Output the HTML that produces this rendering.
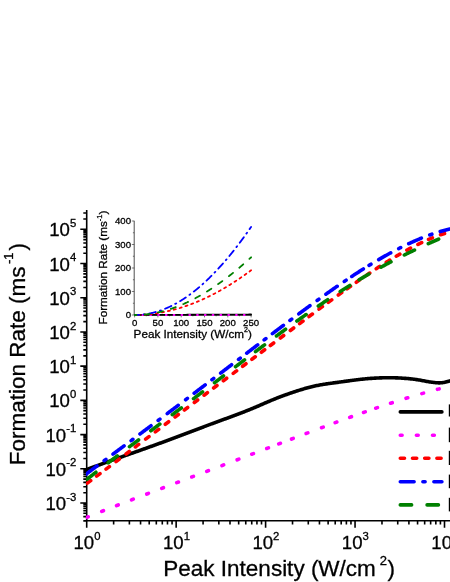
<!DOCTYPE html>
<html><head><meta charset="utf-8"><title>Formation Rate vs Peak Intensity</title>
<style>html,body{margin:0;padding:0;background:#fff}body{width:450px;height:582px;overflow:hidden}svg{display:block;will-change:transform}</style></head>
<body>
<svg width="450" height="582" viewBox="0 0 450 582" font-family="'Liberation Sans', sans-serif" fill="#000">
<style>text{stroke:#000;stroke-width:.3px}</style>
<rect width="450" height="582" fill="#fff"/>
<defs><clipPath id="pc"><rect x="85.9" y="200" width="370" height="321.7"/></clipPath><clipPath id="ic"><rect x="134" y="215" width="125" height="101"/></clipPath></defs>
<g fill="none" stroke="#000" stroke-width="1.6"><path d="M86.7,210.0V520.8H451"/><path d="M83.30,520.89H86.70M83.30,516.61H86.70M83.30,513.30H86.70M83.30,510.59H86.70M83.30,508.30H86.70M83.30,506.32H86.70M83.30,504.57H86.70M80.30,503.00H86.70M83.30,492.70H86.70M83.30,486.68H86.70M83.30,482.40H86.70M83.30,479.09H86.70M83.30,476.38H86.70M83.30,474.09H86.70M83.30,472.11H86.70M83.30,470.36H86.70M80.30,468.79H86.70M83.30,458.49H86.70M83.30,452.47H86.70M83.30,448.19H86.70M83.30,444.88H86.70M83.30,442.17H86.70M83.30,439.88H86.70M83.30,437.90H86.70M83.30,436.15H86.70M80.30,434.58H86.70M83.30,424.28H86.70M83.30,418.26H86.70M83.30,413.98H86.70M83.30,410.67H86.70M83.30,407.96H86.70M83.30,405.67H86.70M83.30,403.69H86.70M83.30,401.94H86.70M80.30,400.37H86.70M83.30,390.07H86.70M83.30,384.05H86.70M83.30,379.77H86.70M83.30,376.46H86.70M83.30,373.75H86.70M83.30,371.46H86.70M83.30,369.48H86.70M83.30,367.73H86.70M80.30,366.16H86.70M83.30,355.86H86.70M83.30,349.84H86.70M83.30,345.56H86.70M83.30,342.25H86.70M83.30,339.54H86.70M83.30,337.25H86.70M83.30,335.27H86.70M83.30,333.52H86.70M80.30,331.95H86.70M83.30,321.65H86.70M83.30,315.63H86.70M83.30,311.35H86.70M83.30,308.04H86.70M83.30,305.33H86.70M83.30,303.04H86.70M83.30,301.06H86.70M83.30,299.31H86.70M80.30,297.74H86.70M83.30,287.44H86.70M83.30,281.42H86.70M83.30,277.14H86.70M83.30,273.83H86.70M83.30,271.12H86.70M83.30,268.83H86.70M83.30,266.85H86.70M83.30,265.10H86.70M80.30,263.53H86.70M83.30,253.23H86.70M83.30,247.21H86.70M83.30,242.93H86.70M83.30,239.62H86.70M83.30,236.91H86.70M83.30,234.62H86.70M83.30,232.64H86.70M83.30,230.89H86.70M80.30,229.32H86.70M83.30,219.02H86.70M83.30,213.00H86.70M86.70,520.80V527.80M113.63,520.80V524.60M129.38,520.80V524.60M140.55,520.80V524.60M149.22,520.80V524.60M156.31,520.80V524.60M162.29,520.80V524.60M167.48,520.80V524.60M172.06,520.80V524.60M176.15,520.80V527.80M203.08,520.80V524.60M218.83,520.80V524.60M230.00,520.80V524.60M238.67,520.80V524.60M245.76,520.80V524.60M251.74,520.80V524.60M256.93,520.80V524.60M261.51,520.80V524.60M265.60,520.80V527.80M292.53,520.80V524.60M308.28,520.80V524.60M319.45,520.80V524.60M328.12,520.80V524.60M335.21,520.80V524.60M341.19,520.80V524.60M346.38,520.80V524.60M350.96,520.80V524.60M355.05,520.80V527.80M381.98,520.80V524.60M397.73,520.80V524.60M408.90,520.80V524.60M417.57,520.80V524.60M424.66,520.80V524.60M430.64,520.80V524.60M435.83,520.80V524.60M440.41,520.80V524.60M444.50,520.80V527.80"/></g>
<g fill="none" stroke="#222"><path d="M134.2,220.8V315.1H251.6" stroke-width="0.8"/><path d="M131.80,315.00H134.2M132.90,303.25H134.2M131.80,291.50H134.2M132.90,279.75H134.2M131.80,268.00H134.2M132.90,256.25H134.2M131.80,244.50H134.2M132.90,232.75H134.2M131.80,221.00H134.2M134.60,315V317.40M146.25,315V316.30M157.90,315V317.40M169.55,315V316.30M181.20,315V317.40M192.85,315V316.30M204.50,315V317.40M216.15,315V316.30M227.80,315V317.40M239.45,315V316.30M251.10,315V317.40" stroke-width="0.6"/></g>
<g fill="none" stroke-linecap="round" stroke-linejoin="round" stroke-width="3.6" clip-path="url(#pc)">
<path d="M86.70,469.51 L87.70,469.14 L88.70,468.77 L89.70,468.39 L90.70,468.02 L91.70,467.65 L92.70,467.28 L93.70,466.92 L94.70,466.55 L95.70,466.18 L96.70,465.82 L97.70,465.45 L98.70,465.09 L99.70,464.72 L100.70,464.36 L101.70,463.99 L102.70,463.63 L103.70,463.27 L104.70,462.91 L105.70,462.55 L106.70,462.19 L107.70,461.83 L108.70,461.47 L109.70,461.11 L110.70,460.75 L111.70,460.40 L112.70,460.04 L113.70,459.68 L114.70,459.33 L115.70,458.97 L116.70,458.61 L117.70,458.26 L118.70,457.90 L119.70,457.55 L120.70,457.19 L121.70,456.84 L122.70,456.48 L123.70,456.13 L124.70,455.78 L125.70,455.42 L126.70,455.07 L127.70,454.71 L128.70,454.36 L129.70,454.01 L130.70,453.65 L131.70,453.30 L132.70,452.94 L133.70,452.59 L134.70,452.24 L135.70,451.88 L136.70,451.53 L137.70,451.18 L138.70,450.82 L139.70,450.47 L140.70,450.11 L141.70,449.76 L142.70,449.40 L143.70,449.05 L144.70,448.69 L145.70,448.34 L146.70,447.98 L147.70,447.62 L148.70,447.27 L149.70,446.91 L150.70,446.55 L151.70,446.19 L152.70,445.83 L153.70,445.48 L154.70,445.12 L155.70,444.76 L156.70,444.40 L157.70,444.03 L158.70,443.67 L159.70,443.31 L160.70,442.95 L161.70,442.58 L162.70,442.22 L163.70,441.86 L164.70,441.49 L165.70,441.12 L166.70,440.76 L167.70,440.39 L168.70,440.02 L169.70,439.65 L170.70,439.28 L171.70,438.91 L172.70,438.54 L173.70,438.17 L174.70,437.79 L175.70,437.42 L176.70,437.05 L177.70,436.67 L178.70,436.29 L179.70,435.92 L180.70,435.54 L181.70,435.16 L182.70,434.78 L183.70,434.41 L184.70,434.03 L185.70,433.65 L186.70,433.27 L187.70,432.89 L188.70,432.51 L189.70,432.13 L190.70,431.75 L191.70,431.37 L192.70,430.99 L193.70,430.61 L194.70,430.23 L195.70,429.85 L196.70,429.47 L197.70,429.09 L198.70,428.71 L199.70,428.33 L200.70,427.95 L201.70,427.57 L202.70,427.20 L203.70,426.82 L204.70,426.44 L205.70,426.07 L206.70,425.69 L207.70,425.32 L208.70,424.94 L209.70,424.57 L210.70,424.19 L211.70,423.82 L212.70,423.45 L213.70,423.08 L214.70,422.71 L215.70,422.34 L216.70,421.97 L217.70,421.61 L218.70,421.24 L219.70,420.88 L220.70,420.51 L221.70,420.15 L222.70,419.78 L223.70,419.42 L224.70,419.05 L225.70,418.69 L226.70,418.32 L227.70,417.96 L228.70,417.59 L229.70,417.22 L230.70,416.86 L231.70,416.49 L232.70,416.12 L233.70,415.75 L234.70,415.38 L235.70,415.01 L236.70,414.63 L237.70,414.26 L238.70,413.88 L239.70,413.50 L240.70,413.12 L241.70,412.74 L242.70,412.35 L243.70,411.97 L244.70,411.58 L245.70,411.18 L246.70,410.79 L247.70,410.39 L248.70,409.99 L249.70,409.59 L250.70,409.18 L251.70,408.77 L252.70,408.36 L253.70,407.95 L254.70,407.53 L255.70,407.10 L256.70,406.68 L257.70,406.25 L258.70,405.82 L259.70,405.38 L260.70,404.95 L261.70,404.51 L262.70,404.08 L263.70,403.64 L264.70,403.20 L265.70,402.77 L266.70,402.34 L267.70,401.90 L268.70,401.48 L269.70,401.05 L270.70,400.63 L271.70,400.21 L272.70,399.79 L273.70,399.38 L274.70,398.98 L275.70,398.58 L276.70,398.18 L277.70,397.79 L278.70,397.40 L279.70,397.02 L280.70,396.64 L281.70,396.26 L282.70,395.89 L283.70,395.52 L284.70,395.15 L285.70,394.79 L286.70,394.44 L287.70,394.08 L288.70,393.73 L289.70,393.39 L290.70,393.04 L291.70,392.70 L292.70,392.37 L293.70,392.03 L294.70,391.70 L295.70,391.37 L296.70,391.05 L297.70,390.73 L298.70,390.41 L299.70,390.10 L300.70,389.79 L301.70,389.48 L302.70,389.18 L303.70,388.89 L304.70,388.60 L305.70,388.31 L306.70,388.04 L307.70,387.76 L308.70,387.50 L309.70,387.23 L310.70,386.98 L311.70,386.73 L312.70,386.49 L313.70,386.26 L314.70,386.03 L315.70,385.81 L316.70,385.60 L317.70,385.40 L318.70,385.20 L319.70,385.01 L320.70,384.83 L321.70,384.66 L322.70,384.49 L323.70,384.32 L324.70,384.16 L325.70,384.01 L326.70,383.86 L327.70,383.71 L328.70,383.57 L329.70,383.43 L330.70,383.29 L331.70,383.16 L332.70,383.02 L333.70,382.89 L334.70,382.76 L335.70,382.62 L336.70,382.49 L337.70,382.36 L338.70,382.23 L339.70,382.09 L340.70,381.96 L341.70,381.82 L342.70,381.68 L343.70,381.54 L344.70,381.40 L345.70,381.27 L346.70,381.13 L347.70,380.99 L348.70,380.85 L349.70,380.72 L350.70,380.58 L351.70,380.45 L352.70,380.31 L353.70,380.18 L354.70,380.05 L355.70,379.93 L356.70,379.80 L357.70,379.68 L358.70,379.56 L359.70,379.45 L360.70,379.33 L361.70,379.22 L362.70,379.12 L363.70,379.02 L364.70,378.92 L365.70,378.83 L366.70,378.74 L367.70,378.65 L368.70,378.57 L369.70,378.49 L370.70,378.42 L371.70,378.34 L372.70,378.28 L373.70,378.21 L374.70,378.15 L375.70,378.10 L376.70,378.05 L377.70,378.00 L378.70,377.95 L379.70,377.91 L380.70,377.88 L381.70,377.84 L382.70,377.82 L383.70,377.79 L384.70,377.77 L385.70,377.75 L386.70,377.74 L387.70,377.73 L388.70,377.73 L389.70,377.73 L390.70,377.74 L391.70,377.75 L392.70,377.76 L393.70,377.78 L394.70,377.81 L395.70,377.84 L396.70,377.88 L397.70,377.92 L398.70,377.96 L399.70,378.02 L400.70,378.07 L401.70,378.13 L402.70,378.19 L403.70,378.26 L404.70,378.33 L405.70,378.41 L406.70,378.49 L407.70,378.57 L408.70,378.65 L409.70,378.75 L410.70,378.85 L411.70,378.95 L412.70,379.06 L413.70,379.18 L414.70,379.31 L415.70,379.45 L416.70,379.60 L417.70,379.76 L418.70,379.93 L419.70,380.10 L420.70,380.28 L421.70,380.47 L422.70,380.66 L423.70,380.85 L424.70,381.04 L425.70,381.22 L426.70,381.41 L427.70,381.58 L428.70,381.75 L429.70,381.91 L430.70,382.07 L431.70,382.21 L432.70,382.34 L433.70,382.47 L434.70,382.58 L435.70,382.67 L436.70,382.76 L437.70,382.82 L438.70,382.86 L439.70,382.86 L440.70,382.82 L441.70,382.73 L442.70,382.60 L443.70,382.42 L444.70,382.21 L445.70,381.97 L446.70,381.72 L447.70,381.46 L448.70,381.19 L449.70,380.93 L450.70,380.67" stroke="#000"/>
<path d="M86.57,517.44 L87.40,517.10 L88.23,516.76M101.76,511.38 L102.60,511.05 L103.44,510.72M116.56,505.60 L117.40,505.27 L118.24,504.95M131.56,499.82 L132.40,499.50 L133.24,499.18M146.76,494.03 L147.60,493.71 L148.44,493.39M161.76,488.34 L162.60,488.02 L163.44,487.70M176.76,482.67 L177.60,482.35 L178.44,482.04M191.76,477.01 L192.60,476.69 L193.44,476.37M206.76,471.33 L207.60,471.01 L208.44,470.69M221.96,465.57 L222.80,465.25 L223.64,464.93M237.16,459.79 L238.00,459.47 L238.84,459.15M251.76,454.22 L252.60,453.90 L253.44,453.58M266.76,448.49 L267.60,448.17 L268.44,447.85M278.76,443.91 L279.60,443.59 L280.44,443.27M291.56,439.04 L292.40,438.72 L293.24,438.40M306.16,433.50 L307.00,433.18 L307.84,432.87M321.56,427.71 L322.40,427.40 L323.24,427.08M335.16,422.67 L336.00,422.36 L336.84,422.04M349.75,417.34 L350.60,417.04 L351.45,416.73M363.55,412.43 L364.40,412.13 L365.25,411.83M375.75,408.20 L376.60,407.90 L377.45,407.61M390.54,403.24 L391.40,402.96 L392.26,402.69M406.04,398.31 L406.90,398.05 L407.76,397.78M421.83,393.61 L422.70,393.36 L423.57,393.12M437.43,389.35 L438.30,389.12 L439.17,388.90" stroke="#ff00ff"/>
<path d="M87.31,483.08 L87.99,482.58 L88.66,482.08 L89.34,481.58 L90.01,481.08 L90.68,480.57M96.62,476.14 L97.29,475.64 L97.96,475.14 L98.64,474.63 L99.31,474.13 L99.98,473.63M106.02,469.09 L106.69,468.58 L107.36,468.08 L108.04,467.57 L108.71,467.07 L109.38,466.56M116.02,461.55 L116.69,461.04 L117.36,460.54 L118.04,460.03 L118.71,459.52 L119.38,459.02M126.03,453.99 L126.70,453.48 L127.37,452.98 L128.03,452.47 L128.70,451.96 L129.37,451.46M135.33,446.96 L136.00,446.45 L136.67,445.94 L137.33,445.44 L138.00,444.93 L138.67,444.42M145.62,439.17 L146.29,438.66 L146.96,438.16 L147.64,437.65 L148.31,437.14 L148.98,436.64M155.32,431.84 L155.99,431.33 L156.66,430.83 L157.34,430.32 L158.01,429.82 L158.68,429.31M165.32,424.30 L165.99,423.79 L166.66,423.29 L167.34,422.78 L168.01,422.28 L168.68,421.77M175.02,416.99 L175.69,416.49 L176.36,415.98 L177.04,415.48 L177.71,414.97 L178.38,414.47M184.32,410.00 L184.99,409.49 L185.66,408.99 L186.34,408.48 L187.01,407.98 L187.68,407.48M194.32,402.49 L194.99,401.98 L195.66,401.48 L196.34,400.98 L197.01,400.47 L197.68,399.97M204.02,395.21 L204.69,394.71 L205.36,394.20 L206.04,393.70 L206.71,393.20 L207.38,392.69M213.62,388.02 L214.29,387.51 L214.96,387.01 L215.64,386.51 L216.31,386.00 L216.98,385.50M223.32,380.75 L223.99,380.24 L224.66,379.74 L225.34,379.24 L226.01,378.73 L226.68,378.23M233.22,373.33 L233.89,372.83 L234.56,372.32 L235.24,371.82 L235.91,371.32 L236.58,370.81M242.62,366.29 L243.29,365.78 L243.96,365.28 L244.64,364.77 L245.31,364.27 L245.98,363.77M251.92,359.31 L252.59,358.81 L253.26,358.30 L253.94,357.80 L254.61,357.30 L255.28,356.79M261.32,352.26 L261.99,351.76 L262.66,351.25 L263.34,350.75 L264.01,350.25 L264.68,349.74M270.32,345.51 L270.99,345.01 L271.66,344.50 L272.34,344.00 L273.01,343.49 L273.68,342.99M280.32,338.01 L280.99,337.51 L281.66,337.00 L282.34,336.50 L283.01,336.00 L283.68,335.49M290.32,330.52 L290.99,330.01 L291.66,329.51 L292.34,329.01 L293.01,328.51 L293.68,328.00M299.62,323.57 L300.29,323.06 L300.96,322.56 L301.64,322.06 L302.31,321.56 L302.98,321.05M309.01,316.56 L309.69,316.06 L310.36,315.56 L311.04,315.06 L311.71,314.56 L312.39,314.06M319.01,309.15 L319.69,308.65 L320.36,308.15 L321.04,307.66 L321.71,307.16 L322.39,306.66M328.31,302.32 L328.98,301.82 L329.66,301.32 L330.34,300.83 L331.02,300.33 L331.70,299.84M338.30,295.04 L338.98,294.55 L339.66,294.06 L340.34,293.57 L341.02,293.08 L341.70,292.59M347.09,288.74 L347.77,288.25 L348.46,287.76 L349.14,287.28 L349.83,286.79 L350.51,286.30M356.28,282.25 L356.97,281.77 L357.66,281.29 L358.34,280.81 L359.04,280.34 L359.73,279.86M366.26,275.38 L366.96,274.91 L367.65,274.43 L368.35,273.96 L369.04,273.50 L369.74,273.03M376.24,268.71 L376.94,268.25 L377.65,267.80 L378.35,267.34 L379.06,266.88 L379.76,266.42M386.22,262.32 L386.93,261.87 L387.64,261.43 L388.36,260.98 L389.07,260.54 L389.79,260.10M396.24,256.20 L396.96,255.78 L397.69,255.35 L398.41,254.93 L399.14,254.51 L399.87,254.08M406.85,250.15 L407.59,249.75 L408.33,249.35 L409.07,248.95 L409.81,248.55 L410.55,248.16M417.91,244.39 L418.67,244.02 L419.42,243.65 L420.18,243.28 L420.94,242.92 L421.70,242.56M428.57,239.46 L429.34,239.13 L430.11,238.80 L430.89,238.48 L431.66,238.15 L432.44,237.84M440.56,234.77 L441.36,234.50 L442.15,234.23 L442.95,233.96 L443.75,233.70 L444.55,233.45" stroke="#ff0000"/>
<path d="M85.90,474.26 L86.70,473.67 L87.50,473.07 L88.29,472.48 L89.09,471.89 L89.88,471.29 L90.68,470.70 L91.48,470.11 L92.27,469.52 L93.07,468.92 L93.87,468.33 L94.66,467.74 L95.46,467.15 L96.26,466.55 L97.05,465.96M104.12,460.71 L104.71,460.27 L105.29,459.84 L105.88,459.40M112.97,454.13 L113.76,453.54 L114.55,452.96 L115.34,452.37 L116.13,451.78 L116.92,451.19 L117.71,450.60 L118.50,450.02 L119.29,449.43 L120.08,448.84 L120.88,448.25 L121.67,447.66 L122.46,447.07 L123.25,446.48 L124.04,445.90M131.12,440.62 L131.71,440.19 L132.29,439.75 L132.88,439.31M139.98,434.01 L140.77,433.42 L141.56,432.83 L142.35,432.24 L143.14,431.65 L143.93,431.06 L144.72,430.47 L145.51,429.88 L146.30,429.29 L147.09,428.70 L147.88,428.11 L148.67,427.52 L149.45,426.93 L150.24,426.34 L151.03,425.75M158.12,420.44 L158.71,420.00 L159.29,419.56 L159.88,419.12M167.25,413.59 L168.04,412.99 L168.82,412.40 L169.61,411.81 L170.40,411.21 L171.19,410.62 L171.97,410.03 L172.76,409.44 L173.55,408.84 L174.33,408.25 L175.12,407.66 L175.91,407.06 L176.70,406.47 L177.48,405.88 L178.27,405.28M185.62,399.73 L186.21,399.28 L186.79,398.84 L187.38,398.40M194.16,393.26 L194.95,392.66 L195.73,392.07 L196.52,391.47 L197.30,390.88 L198.09,390.28 L198.87,389.68 L199.66,389.09 L200.44,388.49 L201.23,387.90 L202.01,387.30 L202.80,386.70 L203.58,386.11 L204.37,385.51 L205.15,384.91M211.92,379.76 L212.51,379.31 L213.09,378.87 L213.67,378.42M220.62,373.13 L221.40,372.53 L222.19,371.94 L222.97,371.34 L223.75,370.74 L224.54,370.14 L225.32,369.54 L226.10,368.95 L226.89,368.35 L227.67,367.75 L228.45,367.15 L229.24,366.55 L230.02,365.95 L230.80,365.36 L231.59,364.76M238.53,359.46 L239.11,359.01 L239.69,358.57 L240.27,358.12M246.71,353.21 L247.49,352.61 L248.28,352.01 L249.06,351.42 L249.84,350.82 L250.63,350.22 L251.41,349.62 L252.19,349.02 L252.98,348.43 L253.76,347.83 L254.55,347.23 L255.33,346.63 L256.11,346.04 L256.90,345.44 L257.68,344.84M264.12,339.94 L264.71,339.49 L265.29,339.05 L265.88,338.61M272.38,333.68 L273.16,333.08 L273.95,332.49 L274.73,331.89 L275.52,331.30 L276.31,330.70 L277.09,330.11 L277.88,329.52 L278.67,328.92 L279.45,328.33 L280.24,327.74 L281.03,327.14 L281.82,326.55 L282.60,325.96 L283.39,325.36M289.92,320.47 L290.51,320.03 L291.09,319.59 L291.68,319.15M298.80,313.86 L299.60,313.27 L300.39,312.69 L301.18,312.10 L301.98,311.51 L302.77,310.93 L303.56,310.34 L304.36,309.76 L305.15,309.18 L305.94,308.59 L306.74,308.01 L307.54,307.43 L308.33,306.85 L309.13,306.26 L309.92,305.68M317.11,300.47 L317.70,300.04 L318.30,299.61 L318.89,299.19M325.89,294.19 L326.69,293.62 L327.50,293.06 L328.30,292.49 L329.11,291.92 L329.91,291.35 L330.72,290.79 L331.53,290.22 L332.34,289.66 L333.14,289.09 L333.95,288.53 L334.76,287.97 L335.57,287.40 L336.38,286.84 L337.19,286.28M344.29,281.44 L344.90,281.03 L345.50,280.62 L346.11,280.21M351.74,276.46 L352.56,275.92 L353.38,275.37 L354.21,274.83 L355.03,274.30 L355.86,273.76 L356.69,273.22 L357.51,272.68 L358.34,272.15 L359.17,271.62 L360.00,271.08 L360.83,270.55 L361.66,270.02 L362.49,269.50 L363.33,268.97M369.06,265.39 L369.69,265.01 L370.31,264.63 L370.94,264.24M378.70,259.60 L379.55,259.10 L380.41,258.61 L381.26,258.11 L382.11,257.62 L382.97,257.13 L383.83,256.65 L384.68,256.16 L385.54,255.68 L386.40,255.19 L387.26,254.71 L388.12,254.23 L388.99,253.76 L389.85,253.29 L390.72,252.81M398.72,248.59 L399.37,248.26 L400.03,247.93 L400.68,247.60M408.74,243.68 L409.64,243.27 L410.53,242.85 L411.43,242.44 L412.33,242.04 L413.23,241.64 L414.13,241.24 L415.03,240.84 L415.93,240.45 L416.84,240.06 L417.75,239.67 L418.66,239.29 L419.57,238.91 L420.48,238.53 L421.39,238.16M429.76,234.97 L430.45,234.72 L431.15,234.48 L431.84,234.23M440.22,231.55 L441.16,231.27 L442.11,231.00 L443.06,230.73 L444.01,230.47 L444.96,230.22 L445.92,229.97 L446.87,229.73 L447.83,229.49 L448.79,229.26 L449.75,229.04 L450.71,228.82 L451.67,228.60 L452.64,228.40 L453.60,228.20" stroke="#0000ff"/>
<path d="M87.06,479.25 L87.79,478.67 L88.53,478.08 L89.27,477.50 L90.01,476.91 L90.75,476.33 L91.49,475.75 L92.23,475.16 L92.97,474.58 L93.71,474.00 L94.45,473.42 L95.19,472.84 L95.93,472.26M108.21,462.79 L108.95,462.22 L109.70,461.65 L110.45,461.08 L111.20,460.51 L111.95,459.94 L112.70,459.37 L113.45,458.80 L114.20,458.23 L114.95,457.66 L115.70,457.09 L116.45,456.53 L117.20,455.96M129.48,446.72 L130.23,446.16 L130.98,445.59 L131.74,445.03 L132.49,444.46 L133.25,443.90 L134.00,443.34 L134.75,442.77 L135.51,442.21 L136.26,441.64 L137.02,441.08 L137.77,440.52 L138.52,439.95M150.77,430.80 L151.53,430.24 L152.28,429.67 L153.04,429.11 L153.79,428.55 L154.55,427.98 L155.30,427.42 L156.05,426.86 L156.81,426.29 L157.56,425.73 L158.32,425.16 L159.07,424.60 L159.82,424.04M172.28,414.70 L173.04,414.13 L173.79,413.56 L174.54,413.00 L175.29,412.43 L176.05,411.87 L176.80,411.30 L177.55,410.73 L178.30,410.17 L179.06,409.60 L179.81,409.03 L180.56,408.47 L181.31,407.90M193.50,398.70 L194.25,398.13 L195.00,397.56 L195.75,396.99 L196.50,396.42 L197.25,395.85 L198.00,395.28 L198.75,394.71 L199.50,394.14 L200.25,393.58 L201.00,393.01 L201.75,392.44 L202.50,391.87M214.50,382.74 L215.25,382.17 L216.00,381.60 L216.75,381.03 L217.50,380.46 L218.25,379.89 L219.00,379.32 L219.75,378.75 L220.50,378.17 L221.25,377.60 L222.00,377.03 L222.75,376.46 L223.49,375.89M235.50,366.75 L236.25,366.18 L237.00,365.61 L237.75,365.04 L238.50,364.47 L239.25,363.90 L240.00,363.33 L240.75,362.76 L241.50,362.19 L242.25,361.62 L243.00,361.05 L243.75,360.48 L244.50,359.91M255.49,351.61 L256.24,351.04 L256.99,350.47 L257.74,349.91 L258.49,349.34 L259.25,348.77 L260.00,348.21 L260.75,347.64 L261.51,347.08 L262.26,346.51 L263.01,345.95 L263.77,345.38 L264.52,344.82M276.45,335.95 L277.21,335.39 L277.97,334.83 L278.72,334.27 L279.48,333.71 L280.24,333.15 L281.00,332.60 L281.76,332.04 L282.52,331.48 L283.28,330.93 L284.04,330.37 L284.80,329.81 L285.56,329.26M296.90,321.06 L297.66,320.52 L298.43,319.97 L299.20,319.42 L299.96,318.87 L300.73,318.33 L301.50,317.78 L302.27,317.24 L303.04,316.70 L303.81,316.15 L304.58,315.61 L305.35,315.07 L306.12,314.53M318.33,306.06 L319.10,305.53 L319.88,305.00 L320.66,304.47 L321.44,303.94 L322.22,303.42 L323.00,302.89 L323.78,302.36 L324.56,301.84 L325.34,301.31 L326.13,300.79 L326.91,300.27 L327.69,299.74M340.23,291.54 L341.03,291.03 L341.82,290.53 L342.61,290.02 L343.41,289.51 L344.20,289.01 L345.00,288.51 L345.80,288.00 L346.59,287.50 L347.39,287.00 L348.19,286.50 L348.99,286.00 L349.79,285.51M359.15,279.79 L359.95,279.30 L360.76,278.82 L361.57,278.34 L362.38,277.86 L363.19,277.38 L364.00,276.90 L364.81,276.42 L365.62,275.94 L366.44,275.47 L367.25,274.99 L368.06,274.52 L368.88,274.05M381.04,267.18 L381.86,266.73 L382.69,266.28 L383.52,265.83 L384.34,265.38 L385.17,264.93 L386.00,264.48 L386.83,264.03 L387.66,263.59 L388.49,263.15 L389.32,262.70 L390.15,262.26 L390.99,261.82M404.33,254.99 L405.17,254.57 L406.02,254.16 L406.86,253.74 L407.71,253.33 L408.55,252.91 L409.40,252.50 L410.25,252.09 L411.10,251.68 L411.94,251.27 L412.79,250.86 L413.64,250.46 L414.49,250.05M428.33,243.67 L429.19,243.29 L430.05,242.90 L430.92,242.52 L431.78,242.14 L432.64,241.76 L433.50,241.38 L434.36,241.00 L435.23,240.62 L436.09,240.25 L436.95,239.87 L437.82,239.50 L438.68,239.13" stroke="#008000"/>
</g>
<g fill="none" stroke-linecap="round" stroke-linejoin="round" stroke-width="3.6">
<path d="M400.3,411.9H441.9" stroke="#000" />
<path d="M400.3,435.2H441.9" stroke="#ff00ff" stroke-dasharray="1.8 14.3"/>
<path d="M400.3,458.2H441.9" stroke="#ff0000" stroke-dasharray="4.2 8"/>
<path d="M400.3,481.7H441.9" stroke="#0000ff" stroke-dasharray="13.8 8.8 2.2 8.8"/>
<path d="M400.3,504.9H441.9" stroke="#008000" stroke-dasharray="11.3 15.5"/>
</g>
<g fill="none" stroke-linecap="round" stroke-linejoin="round" stroke-width="1.8" clip-path="url(#ic)">
<path d="M134.60,315.00 L135.07,315.00 L135.53,315.00 L136.00,314.99 L136.46,314.99 L136.93,314.99 L137.40,314.99 L137.86,314.99 L138.33,314.98 L138.79,314.98 L139.26,314.98 L139.73,314.98 L140.19,314.98 L140.66,314.97 L141.12,314.97 L141.59,314.97 L142.06,314.97 L142.52,314.97 L142.99,314.96 L143.45,314.96 L143.92,314.96 L144.39,314.96 L144.85,314.96 L145.32,314.96 L145.78,314.95 L146.25,314.95 L146.72,314.95 L147.18,314.95 L147.65,314.95 L148.11,314.94 L148.58,314.94 L149.05,314.94 L149.51,314.94 L149.98,314.94 L150.44,314.93 L150.91,314.93 L151.38,314.93 L151.84,314.93 L152.31,314.93 L152.77,314.93 L153.24,314.92 L153.71,314.92 L154.17,314.92 L154.64,314.92 L155.10,314.92 L155.57,314.91 L156.04,314.91 L156.50,314.91 L156.97,314.91 L157.43,314.91 L157.90,314.91 L158.37,314.90 L158.83,314.90 L159.30,314.90 L159.76,314.90 L160.23,314.90 L160.70,314.89 L161.16,314.89 L161.63,314.89 L162.09,314.89 L162.56,314.89 L163.03,314.88 L163.49,314.88 L163.96,314.88 L164.42,314.88 L164.89,314.88 L165.36,314.87 L165.82,314.87 L166.29,314.87 L166.75,314.87 L167.22,314.87 L167.69,314.86 L168.15,314.86 L168.62,314.86 L169.08,314.86 L169.55,314.86 L170.02,314.85 L170.48,314.85 L170.95,314.85 L171.41,314.85 L171.88,314.85 L172.35,314.84 L172.81,314.84 L173.28,314.84 L173.74,314.84 L174.21,314.83 L174.68,314.83 L175.14,314.83 L175.61,314.83 L176.07,314.83 L176.54,314.82 L177.01,314.82 L177.47,314.82 L177.94,314.82 L178.40,314.81 L178.87,314.81 L179.34,314.81 L179.80,314.81 L180.27,314.81 L180.73,314.80 L181.20,314.80 L181.67,314.80 L182.13,314.80 L182.60,314.79 L183.06,314.79 L183.53,314.79 L184.00,314.79 L184.46,314.78 L184.93,314.78 L185.39,314.78 L185.86,314.78 L186.33,314.78 L186.79,314.77 L187.26,314.77 L187.72,314.77 L188.19,314.77 L188.66,314.76 L189.12,314.76 L189.59,314.76 L190.05,314.76 L190.52,314.76 L190.99,314.75 L191.45,314.75 L191.92,314.75 L192.38,314.75 L192.85,314.74 L193.32,314.74 L193.78,314.74 L194.25,314.74 L194.71,314.74 L195.18,314.73 L195.65,314.73 L196.11,314.73 L196.58,314.73 L197.04,314.73 L197.51,314.72 L197.98,314.72 L198.44,314.72 L198.91,314.72 L199.37,314.72 L199.84,314.71 L200.31,314.71 L200.77,314.71 L201.24,314.71 L201.70,314.70 L202.17,314.70 L202.64,314.70 L203.10,314.70 L203.57,314.70 L204.03,314.69 L204.50,314.69 L204.97,314.69 L205.43,314.69 L205.90,314.69 L206.36,314.68 L206.83,314.68 L207.30,314.68 L207.76,314.68 L208.23,314.68 L208.69,314.67 L209.16,314.67 L209.63,314.67 L210.09,314.67 L210.56,314.67 L211.02,314.67 L211.49,314.66 L211.96,314.66 L212.42,314.66 L212.89,314.66 L213.35,314.66 L213.82,314.65 L214.29,314.65 L214.75,314.65 L215.22,314.65 L215.68,314.65 L216.15,314.64 L216.62,314.64 L217.08,314.64 L217.55,314.64 L218.01,314.64 L218.48,314.63 L218.95,314.63 L219.41,314.63 L219.88,314.63 L220.34,314.63 L220.81,314.63 L221.28,314.62 L221.74,314.62 L222.21,314.62 L222.67,314.62 L223.14,314.62 L223.61,314.61 L224.07,314.61 L224.54,314.61 L225.00,314.61 L225.47,314.61 L225.94,314.61 L226.40,314.60 L226.87,314.60 L227.33,314.60 L227.80,314.60 L228.27,314.60 L228.73,314.60 L229.20,314.59 L229.66,314.59 L230.13,314.59 L230.60,314.59 L231.06,314.59 L231.53,314.58 L231.99,314.58 L232.46,314.58 L232.93,314.58 L233.39,314.58 L233.86,314.58 L234.32,314.57 L234.79,314.57 L235.26,314.57 L235.72,314.57 L236.19,314.57 L236.65,314.57 L237.12,314.56 L237.59,314.56 L238.05,314.56 L238.52,314.56 L238.98,314.56 L239.45,314.56 L239.92,314.55 L240.38,314.55 L240.85,314.55 L241.31,314.55 L241.78,314.55 L242.25,314.55 L242.71,314.54 L243.18,314.54 L243.64,314.54 L244.11,314.54 L244.58,314.54 L245.04,314.54 L245.51,314.53 L245.97,314.53 L246.44,314.53 L246.91,314.53 L247.37,314.53 L247.84,314.53 L248.30,314.53 L248.77,314.52 L249.24,314.52 L249.70,314.52 L250.17,314.52 L250.63,314.52 L251.10,314.52" stroke="#000" />
<path d="M134.60,315.00 L135.07,315.00 L135.53,315.00 L136.00,315.00 L136.46,315.00 L136.93,315.00 L137.40,315.00 L137.86,315.00 L138.33,315.00 L138.79,315.00 L139.26,315.00 L139.73,315.00 L140.19,315.00 L140.66,315.00 L141.12,315.00 L141.59,315.00 L142.06,315.00 L142.52,315.00 L142.99,315.00 L143.45,315.00 L143.92,315.00 L144.39,315.00 L144.85,315.00 L145.32,315.00 L145.78,315.00 L146.25,315.00 L146.72,315.00 L147.18,315.00 L147.65,315.00 L148.11,315.00 L148.58,315.00 L149.05,315.00 L149.51,315.00 L149.98,315.00 L150.44,315.00 L150.91,315.00 L151.38,315.00 L151.84,315.00 L152.31,315.00 L152.77,315.00 L153.24,315.00 L153.71,315.00 L154.17,315.00 L154.64,315.00 L155.10,315.00 L155.57,315.00 L156.04,315.00 L156.50,315.00 L156.97,315.00 L157.43,315.00 L157.90,315.00 L158.37,315.00 L158.83,315.00 L159.30,315.00 L159.76,315.00 L160.23,315.00 L160.70,314.99 L161.16,314.99 L161.63,314.99 L162.09,314.99 L162.56,314.99 L163.03,314.99 L163.49,314.99 L163.96,314.99 L164.42,314.99 L164.89,314.99 L165.36,314.99 L165.82,314.99 L166.29,314.99 L166.75,314.99 L167.22,314.99 L167.69,314.99 L168.15,314.99 L168.62,314.99 L169.08,314.99 L169.55,314.99 L170.02,314.99 L170.48,314.99 L170.95,314.99 L171.41,314.99 L171.88,314.99 L172.35,314.99 L172.81,314.99 L173.28,314.99 L173.74,314.99 L174.21,314.99 L174.68,314.99 L175.14,314.99 L175.61,314.99 L176.07,314.99 L176.54,314.99 L177.01,314.99 L177.47,314.99 L177.94,314.99 L178.40,314.99 L178.87,314.99 L179.34,314.99 L179.80,314.99 L180.27,314.99 L180.73,314.99 L181.20,314.99 L181.67,314.99 L182.13,314.99 L182.60,314.99 L183.06,314.99 L183.53,314.99 L184.00,314.99 L184.46,314.99 L184.93,314.99 L185.39,314.99 L185.86,314.99 L186.33,314.99 L186.79,314.99 L187.26,314.99 L187.72,314.99 L188.19,314.99 L188.66,314.99 L189.12,314.99 L189.59,314.99 L190.05,314.99 L190.52,314.99 L190.99,314.99 L191.45,314.99 L191.92,314.99 L192.38,314.99 L192.85,314.99 L193.32,314.99 L193.78,314.99 L194.25,314.99 L194.71,314.99 L195.18,314.99 L195.65,314.99 L196.11,314.99 L196.58,314.99 L197.04,314.99 L197.51,314.99 L197.98,314.99 L198.44,314.99 L198.91,314.99 L199.37,314.99 L199.84,314.99 L200.31,314.99 L200.77,314.99 L201.24,314.99 L201.70,314.99 L202.17,314.99 L202.64,314.99 L203.10,314.99 L203.57,314.99 L204.03,314.99 L204.50,314.99 L204.97,314.99 L205.43,314.99 L205.90,314.99 L206.36,314.99 L206.83,314.99 L207.30,314.99 L207.76,314.99 L208.23,314.99 L208.69,314.99 L209.16,314.99 L209.63,314.99 L210.09,314.99 L210.56,314.99 L211.02,314.99 L211.49,314.99 L211.96,314.99 L212.42,314.99 L212.89,314.98 L213.35,314.98 L213.82,314.98 L214.29,314.98 L214.75,314.98 L215.22,314.98 L215.68,314.98 L216.15,314.98 L216.62,314.98 L217.08,314.98 L217.55,314.98 L218.01,314.98 L218.48,314.98 L218.95,314.98 L219.41,314.98 L219.88,314.98 L220.34,314.98 L220.81,314.98 L221.28,314.98 L221.74,314.98 L222.21,314.98 L222.67,314.98 L223.14,314.98 L223.61,314.98 L224.07,314.98 L224.54,314.98 L225.00,314.98 L225.47,314.98 L225.94,314.98 L226.40,314.98 L226.87,314.98 L227.33,314.98 L227.80,314.98 L228.27,314.98 L228.73,314.98 L229.20,314.98 L229.66,314.98 L230.13,314.98 L230.60,314.98 L231.06,314.98 L231.53,314.98 L231.99,314.98 L232.46,314.98 L232.93,314.98 L233.39,314.98 L233.86,314.98 L234.32,314.98 L234.79,314.98 L235.26,314.98 L235.72,314.98 L236.19,314.98 L236.65,314.98 L237.12,314.98 L237.59,314.98 L238.05,314.98 L238.52,314.98 L238.98,314.98 L239.45,314.98 L239.92,314.98 L240.38,314.98 L240.85,314.98 L241.31,314.98 L241.78,314.98 L242.25,314.98 L242.71,314.98 L243.18,314.98 L243.64,314.98 L244.11,314.98 L244.58,314.98 L245.04,314.98 L245.51,314.98 L245.97,314.98 L246.44,314.98 L246.91,314.98 L247.37,314.98 L247.84,314.98 L248.30,314.98 L248.77,314.98 L249.24,314.98 L249.70,314.98 L250.17,314.98 L250.63,314.98 L251.10,314.98" stroke="#ff00ff" stroke-dasharray="0.9 6.9"/>
<path d="M134.60,315.00 L135.07,315.00 L135.53,315.00 L136.00,314.99 L136.46,314.99 L136.93,314.98 L137.40,314.97 L137.86,314.96 L138.33,314.95 L138.79,314.93 L139.26,314.92 L139.73,314.90 L140.19,314.88 L140.66,314.86 L141.12,314.84 L141.59,314.82 L142.06,314.80 L142.52,314.77 L142.99,314.74 L143.45,314.71 L143.92,314.68 L144.39,314.65 L144.85,314.62 L145.32,314.58 L145.78,314.55 L146.25,314.51 L146.72,314.47 L147.18,314.43 L147.65,314.39 L148.11,314.34 L148.58,314.30 L149.05,314.25 L149.51,314.20 L149.98,314.15 L150.44,314.10 L150.91,314.05 L151.38,314.00 L151.84,313.94 L152.31,313.88 L152.77,313.83 L153.24,313.77 L153.71,313.71 L154.17,313.64 L154.64,313.58 L155.10,313.51 L155.57,313.45 L156.04,313.38 L156.50,313.31 L156.97,313.24 L157.43,313.16 L157.90,313.09 L158.37,313.01 L158.83,312.94 L159.30,312.86 L159.76,312.78 L160.23,312.70 L160.70,312.62 L161.16,312.53 L161.63,312.45 L162.09,312.36 L162.56,312.27 L163.03,312.18 L163.49,312.09 L163.96,312.00 L164.42,311.90 L164.89,311.81 L165.36,311.71 L165.82,311.61 L166.29,311.51 L166.75,311.41 L167.22,311.31 L167.69,311.20 L168.15,311.10 L168.62,310.99 L169.08,310.88 L169.55,310.77 L170.02,310.66 L170.48,310.55 L170.95,310.43 L171.41,310.32 L171.88,310.20 L172.35,310.08 L172.81,309.96 L173.28,309.84 L173.74,309.72 L174.21,309.60 L174.68,309.47 L175.14,309.34 L175.61,309.22 L176.07,309.09 L176.54,308.95 L177.01,308.82 L177.47,308.69 L177.94,308.55 L178.40,308.42 L178.87,308.28 L179.34,308.14 L179.80,308.00 L180.27,307.86 L180.73,307.71 L181.20,307.57 L181.67,307.42 L182.13,307.27 L182.60,307.12 L183.06,306.97 L183.53,306.82 L184.00,306.67 L184.46,306.51 L184.93,306.36 L185.39,306.20 L185.86,306.04 L186.33,305.88 L186.79,305.72 L187.26,305.55 L187.72,305.39 L188.19,305.22 L188.66,305.05 L189.12,304.89 L189.59,304.72 L190.05,304.54 L190.52,304.37 L190.99,304.20 L191.45,304.02 L191.92,303.84 L192.38,303.67 L192.85,303.49 L193.32,303.30 L193.78,303.12 L194.25,302.94 L194.71,302.75 L195.18,302.56 L195.65,302.38 L196.11,302.19 L196.58,302.00 L197.04,301.80 L197.51,301.61 L197.98,301.41 L198.44,301.22 L198.91,301.02 L199.37,300.82 L199.84,300.62 L200.31,300.42 L200.77,300.21 L201.24,300.01 L201.70,299.80 L202.17,299.60 L202.64,299.39 L203.10,299.18 L203.57,298.96 L204.03,298.75 L204.50,298.54 L204.97,298.32 L205.43,298.10 L205.90,297.88 L206.36,297.66 L206.83,297.44 L207.30,297.22 L207.76,297.00 L208.23,296.77 L208.69,296.54 L209.16,296.32 L209.63,296.09 L210.09,295.86 L210.56,295.62 L211.02,295.39 L211.49,295.16 L211.96,294.92 L212.42,294.68 L212.89,294.44 L213.35,294.20 L213.82,293.96 L214.29,293.72 L214.75,293.47 L215.22,293.23 L215.68,292.98 L216.15,292.73 L216.62,292.48 L217.08,292.23 L217.55,291.98 L218.01,291.72 L218.48,291.47 L218.95,291.21 L219.41,290.95 L219.88,290.69 L220.34,290.43 L220.81,290.17 L221.28,289.91 L221.74,289.64 L222.21,289.38 L222.67,289.11 L223.14,288.84 L223.61,288.57 L224.07,288.30 L224.54,288.03 L225.00,287.75 L225.47,287.48 L225.94,287.20 L226.40,286.92 L226.87,286.64 L227.33,286.36 L227.80,286.08 L228.27,285.79 L228.73,285.51 L229.20,285.22 L229.66,284.94 L230.13,284.65 L230.60,284.36 L231.06,284.06 L231.53,283.77 L231.99,283.48 L232.46,283.18 L232.93,282.88 L233.39,282.59 L233.86,282.29 L234.32,281.99 L234.79,281.68 L235.26,281.38 L235.72,281.07 L236.19,280.77 L236.65,280.46 L237.12,280.15 L237.59,279.84 L238.05,279.53 L238.52,279.22 L238.98,278.90 L239.45,278.59 L239.92,278.27 L240.38,277.95 L240.85,277.63 L241.31,277.31 L241.78,276.99 L242.25,276.67 L242.71,276.34 L243.18,276.01 L243.64,275.69 L244.11,275.36 L244.58,275.03 L245.04,274.70 L245.51,274.36 L245.97,274.03 L246.44,273.69 L246.91,273.36 L247.37,273.02 L247.84,272.68 L248.30,272.34 L248.77,272.00 L249.24,271.66 L249.70,271.31 L250.17,270.96 L250.63,270.62 L251.10,270.27" stroke="#ff0000" stroke-dasharray="2.1 4" stroke-dashoffset="3.05"/>
<path d="M134.60,315.00 L135.07,315.00 L135.53,314.99 L136.00,314.99 L136.46,314.98 L136.93,314.96 L137.40,314.95 L137.86,314.93 L138.33,314.90 L138.79,314.88 L139.26,314.85 L139.73,314.82 L140.19,314.79 L140.66,314.75 L141.12,314.71 L141.59,314.67 L142.06,314.62 L142.52,314.57 L142.99,314.52 L143.45,314.47 L143.92,314.41 L144.39,314.35 L144.85,314.29 L145.32,314.22 L145.78,314.15 L146.25,314.08 L146.72,314.01 L147.18,313.93 L147.65,313.85 L148.11,313.77 L148.58,313.68 L149.05,313.59 L149.51,313.50 L149.98,313.40 L150.44,313.30 L150.91,313.20 L151.38,313.10 L151.84,312.99 L152.31,312.88 L152.77,312.77 L153.24,312.65 L153.71,312.54 L154.17,312.41 L154.64,312.29 L155.10,312.16 L155.57,312.03 L156.04,311.90 L156.50,311.76 L156.97,311.62 L157.43,311.48 L157.90,311.34 L158.37,311.19 L158.83,311.04 L159.30,310.89 L159.76,310.73 L160.23,310.57 L160.70,310.41 L161.16,310.24 L161.63,310.08 L162.09,309.90 L162.56,309.73 L163.03,309.55 L163.49,309.37 L163.96,309.19 L164.42,309.01 L164.89,308.82 L165.36,308.63 L165.82,308.43 L166.29,308.23 L166.75,308.03 L167.22,307.83 L167.69,307.63 L168.15,307.42 L168.62,307.21 L169.08,306.99 L169.55,306.78 L170.02,306.56 L170.48,306.33 L170.95,306.11 L171.41,305.88 L171.88,305.65 L172.35,305.41 L172.81,305.17 L173.28,304.93 L173.74,304.69 L174.21,304.45 L174.68,304.20 L175.14,303.95 L175.61,303.69 L176.07,303.43 L176.54,303.17 L177.01,302.91 L177.47,302.65 L177.94,302.38 L178.40,302.11 L178.87,301.83 L179.34,301.56 L179.80,301.28 L180.27,300.99 L180.73,300.71 L181.20,300.42 L181.67,300.13 L182.13,299.83 L182.60,299.54 L183.06,299.24 L183.53,298.94 L184.00,298.63 L184.46,298.32 L184.93,298.01 L185.39,297.70 L185.86,297.38 L186.33,297.06 L186.79,296.74 L187.26,296.42 L187.72,296.09 L188.19,295.76 L188.66,295.43 L189.12,295.09 L189.59,294.75 L190.05,294.41 L190.52,294.07 L190.99,293.72 L191.45,293.37 L191.92,293.02 L192.38,292.67 L192.85,292.31 L193.32,291.95 L193.78,291.58 L194.25,291.22 L194.71,290.85 L195.18,290.48 L195.65,290.10 L196.11,289.73 L196.58,289.35 L197.04,288.97 L197.51,288.58 L197.98,288.19 L198.44,287.80 L198.91,287.41 L199.37,287.01 L199.84,286.61 L200.31,286.21 L200.77,285.81 L201.24,285.40 L201.70,284.99 L202.17,284.58 L202.64,284.17 L203.10,283.75 L203.57,283.33 L204.03,282.91 L204.50,282.48 L204.97,282.05 L205.43,281.62 L205.90,281.19 L206.36,280.75 L206.83,280.31 L207.30,279.87 L207.76,279.43 L208.23,278.98 L208.69,278.53 L209.16,278.08 L209.63,277.62 L210.09,277.17 L210.56,276.71 L211.02,276.24 L211.49,275.78 L211.96,275.31 L212.42,274.84 L212.89,274.37 L213.35,273.89 L213.82,273.41 L214.29,272.93 L214.75,272.45 L215.22,271.96 L215.68,271.47 L216.15,270.98 L216.62,270.49 L217.08,269.99 L217.55,269.49 L218.01,268.99 L218.48,268.49 L218.95,267.98 L219.41,267.47 L219.88,266.96 L220.34,266.44 L220.81,265.92 L221.28,265.40 L221.74,264.88 L222.21,264.36 L222.67,263.83 L223.14,263.30 L223.61,262.77 L224.07,262.23 L224.54,261.69 L225.00,261.15 L225.47,260.61 L225.94,260.06 L226.40,259.51 L226.87,258.96 L227.33,258.41 L227.80,257.85 L228.27,257.30 L228.73,256.74 L229.20,256.17 L229.66,255.61 L230.13,255.04 L230.60,254.47 L231.06,253.89 L231.53,253.32 L231.99,252.74 L232.46,252.16 L232.93,251.57 L233.39,250.99 L233.86,250.40 L234.32,249.81 L234.79,249.21 L235.26,248.62 L235.72,248.02 L236.19,247.42 L236.65,246.82 L237.12,246.21 L237.59,245.60 L238.05,244.99 L238.52,244.38 L238.98,243.76 L239.45,243.14 L239.92,242.52 L240.38,241.90 L240.85,241.27 L241.31,240.64 L241.78,240.01 L242.25,239.38 L242.71,238.74 L243.18,238.11 L243.64,237.47 L244.11,236.82 L244.58,236.18 L245.04,235.53 L245.51,234.88 L245.97,234.23 L246.44,233.57 L246.91,232.91 L247.37,232.25 L247.84,231.59 L248.30,230.93 L248.77,230.26 L249.24,229.59 L249.70,228.92 L250.17,228.24 L250.63,227.57 L251.10,226.89" stroke="#0000ff" stroke-dasharray="6.9 4.4 1.1 4.4" stroke-dashoffset="2.3"/>
<path d="M134.60,315.00 L135.07,315.00 L135.53,315.00 L136.00,314.99 L136.46,314.98 L136.93,314.97 L137.40,314.96 L137.86,314.95 L138.33,314.93 L138.79,314.91 L139.26,314.90 L139.73,314.87 L140.19,314.85 L140.66,314.82 L141.12,314.80 L141.59,314.77 L142.06,314.74 L142.52,314.70 L142.99,314.67 L143.45,314.63 L143.92,314.59 L144.39,314.55 L144.85,314.50 L145.32,314.46 L145.78,314.41 L146.25,314.36 L146.72,314.31 L147.18,314.25 L147.65,314.20 L148.11,314.14 L148.58,314.08 L149.05,314.02 L149.51,313.95 L149.98,313.88 L150.44,313.82 L150.91,313.75 L151.38,313.67 L151.84,313.60 L152.31,313.52 L152.77,313.44 L153.24,313.36 L153.71,313.28 L154.17,313.20 L154.64,313.11 L155.10,313.02 L155.57,312.93 L156.04,312.84 L156.50,312.74 L156.97,312.65 L157.43,312.55 L157.90,312.45 L158.37,312.35 L158.83,312.24 L159.30,312.14 L159.76,312.03 L160.23,311.92 L160.70,311.81 L161.16,311.69 L161.63,311.58 L162.09,311.46 L162.56,311.34 L163.03,311.22 L163.49,311.09 L163.96,310.97 L164.42,310.84 L164.89,310.71 L165.36,310.58 L165.82,310.44 L166.29,310.31 L166.75,310.17 L167.22,310.03 L167.69,309.89 L168.15,309.75 L168.62,309.60 L169.08,309.46 L169.55,309.31 L170.02,309.16 L170.48,309.00 L170.95,308.85 L171.41,308.69 L171.88,308.53 L172.35,308.37 L172.81,308.21 L173.28,308.05 L173.74,307.88 L174.21,307.72 L174.68,307.55 L175.14,307.37 L175.61,307.20 L176.07,307.03 L176.54,306.85 L177.01,306.67 L177.47,306.49 L177.94,306.31 L178.40,306.13 L178.87,305.94 L179.34,305.75 L179.80,305.56 L180.27,305.37 L180.73,305.18 L181.20,304.98 L181.67,304.79 L182.13,304.59 L182.60,304.39 L183.06,304.19 L183.53,303.98 L184.00,303.78 L184.46,303.57 L184.93,303.36 L185.39,303.15 L185.86,302.94 L186.33,302.72 L186.79,302.50 L187.26,302.29 L187.72,302.07 L188.19,301.85 L188.66,301.62 L189.12,301.40 L189.59,301.17 L190.05,300.94 L190.52,300.71 L190.99,300.48 L191.45,300.25 L191.92,300.01 L192.38,299.77 L192.85,299.54 L193.32,299.30 L193.78,299.05 L194.25,298.81 L194.71,298.56 L195.18,298.32 L195.65,298.07 L196.11,297.82 L196.58,297.56 L197.04,297.31 L197.51,297.05 L197.98,296.80 L198.44,296.54 L198.91,296.28 L199.37,296.02 L199.84,295.75 L200.31,295.49 L200.77,295.22 L201.24,294.95 L201.70,294.68 L202.17,294.41 L202.64,294.13 L203.10,293.86 L203.57,293.58 L204.03,293.30 L204.50,293.02 L204.97,292.74 L205.43,292.46 L205.90,292.17 L206.36,291.88 L206.83,291.60 L207.30,291.31 L207.76,291.01 L208.23,290.72 L208.69,290.43 L209.16,290.13 L209.63,289.83 L210.09,289.53 L210.56,289.23 L211.02,288.93 L211.49,288.62 L211.96,288.32 L212.42,288.01 L212.89,287.70 L213.35,287.39 L213.82,287.08 L214.29,286.76 L214.75,286.45 L215.22,286.13 L215.68,285.81 L216.15,285.49 L216.62,285.17 L217.08,284.85 L217.55,284.52 L218.01,284.20 L218.48,283.87 L218.95,283.54 L219.41,283.21 L219.88,282.88 L220.34,282.55 L220.81,282.21 L221.28,281.87 L221.74,281.53 L222.21,281.20 L222.67,280.85 L223.14,280.51 L223.61,280.17 L224.07,279.82 L224.54,279.47 L225.00,279.13 L225.47,278.77 L225.94,278.42 L226.40,278.07 L226.87,277.72 L227.33,277.36 L227.80,277.00 L228.27,276.64 L228.73,276.28 L229.20,275.92 L229.66,275.56 L230.13,275.19 L230.60,274.83 L231.06,274.46 L231.53,274.09 L231.99,273.72 L232.46,273.35 L232.93,272.97 L233.39,272.60 L233.86,272.22 L234.32,271.84 L234.79,271.46 L235.26,271.08 L235.72,270.70 L236.19,270.32 L236.65,269.93 L237.12,269.55 L237.59,269.16 L238.05,268.77 L238.52,268.38 L238.98,267.99 L239.45,267.59 L239.92,267.20 L240.38,266.80 L240.85,266.40 L241.31,266.00 L241.78,265.60 L242.25,265.20 L242.71,264.80 L243.18,264.39 L243.64,263.99 L244.11,263.58 L244.58,263.17 L245.04,262.76 L245.51,262.35 L245.97,261.94 L246.44,261.52 L246.91,261.11 L247.37,260.69 L247.84,260.27 L248.30,259.85 L248.77,259.43 L249.24,259.01 L249.70,258.59 L250.17,258.16 L250.63,257.74 L251.10,257.31" stroke="#008000" stroke-dasharray="5.2 8.2" stroke-dashoffset="3.3"/>
</g>
<rect x="448.8" y="404.4" width="2" height="12.1"/>
<rect x="448.8" y="427.6" width="2" height="14.6"/>
<rect x="448.8" y="450.8" width="2" height="14.2"/>
<rect x="448.8" y="474.6" width="2" height="13.6"/>
<rect x="448.8" y="497.8" width="2" height="13.6"/>
<text x="76.2" y="510.00" text-anchor="end" font-size="18.6">10<tspan dy="-9.3" font-size="11.3">-3</tspan></text>
<text x="76.2" y="475.79" text-anchor="end" font-size="18.6">10<tspan dy="-9.3" font-size="11.3">-2</tspan></text>
<text x="76.2" y="441.58" text-anchor="end" font-size="18.6">10<tspan dy="-9.3" font-size="11.3">-1</tspan></text>
<text x="76.2" y="407.37" text-anchor="end" font-size="18.6">10<tspan dy="-9.3" font-size="11.3">0</tspan></text>
<text x="76.2" y="373.16" text-anchor="end" font-size="18.6">10<tspan dy="-9.3" font-size="11.3">1</tspan></text>
<text x="76.2" y="338.95" text-anchor="end" font-size="18.6">10<tspan dy="-9.3" font-size="11.3">2</tspan></text>
<text x="76.2" y="304.74" text-anchor="end" font-size="18.6">10<tspan dy="-9.3" font-size="11.3">3</tspan></text>
<text x="76.2" y="270.53" text-anchor="end" font-size="18.6">10<tspan dy="-9.3" font-size="11.3">4</tspan></text>
<text x="76.2" y="236.32" text-anchor="end" font-size="18.6">10<tspan dy="-9.3" font-size="11.3">5</tspan></text>
<text x="73.50" y="548.8" font-size="18.6">10<tspan dy="-9.3" font-size="11.3">0</tspan></text>
<text x="162.95" y="548.8" font-size="18.6">10<tspan dy="-9.3" font-size="11.3">1</tspan></text>
<text x="252.40" y="548.8" font-size="18.6">10<tspan dy="-9.3" font-size="11.3">2</tspan></text>
<text x="341.85" y="548.8" font-size="18.6">10<tspan dy="-9.3" font-size="11.3">3</tspan></text>
<text x="431.30" y="548.8" font-size="18.6">10<tspan dy="-9.3" font-size="11.3">4</tspan></text>
<text x="131" y="318.40" text-anchor="end" font-size="9.6">0</text>
<text x="131" y="294.90" text-anchor="end" font-size="9.6">100</text>
<text x="131" y="271.40" text-anchor="end" font-size="9.6">200</text>
<text x="131" y="247.90" text-anchor="end" font-size="9.6">300</text>
<text x="131" y="224.40" text-anchor="end" font-size="9.6">400</text>
<text x="134.60" y="325.9" text-anchor="middle" font-size="9.6">0</text>
<text x="157.90" y="325.9" text-anchor="middle" font-size="9.6">50</text>
<text x="181.20" y="325.9" text-anchor="middle" font-size="9.6">100</text>
<text x="204.50" y="325.9" text-anchor="middle" font-size="9.6">150</text>
<text x="227.80" y="325.9" text-anchor="middle" font-size="9.6">200</text>
<text x="251.10" y="325.9" text-anchor="middle" font-size="9.6">250</text>
<text x="163.3" y="575.6" font-size="22.5">Peak Intensity (W/cm<tspan dx="4" dy="-10.5" font-size="13">2</tspan><tspan dy="10.5" dx="0.5">)</tspan></text>
<text transform="translate(25,465.3) rotate(-90)" font-size="22.5">Formation Rate (ms<tspan dx="2.5" dy="-12" font-size="13">-1</tspan><tspan dy="12" dx="2">)</tspan></text>
<text x="133.6" y="338" font-size="11.7">Peak Intensity (W/cm<tspan dy="-6" font-size="7">2</tspan><tspan dy="6">)</tspan></text>
<text transform="translate(107.3,324.5) rotate(-90)" font-size="11.7">Formation Rate (ms<tspan dy="-5.5" font-size="7.5">-1</tspan><tspan dy="5.5">)</tspan></text>
</svg>
</body></html>
